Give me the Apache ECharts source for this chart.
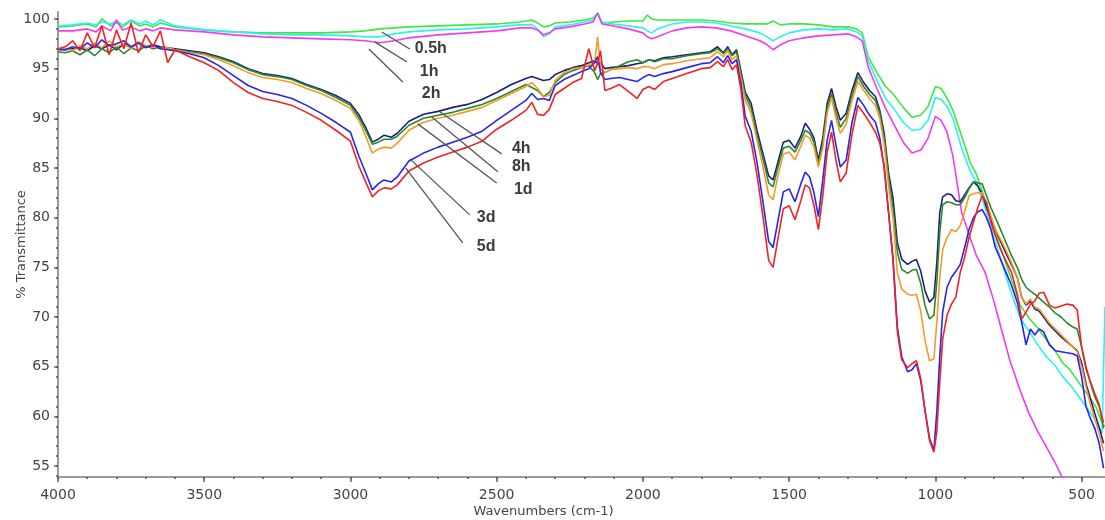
<!DOCTYPE html>
<html>
<head>
<meta charset="utf-8">
<script src="https://cdn.jsdelivr.net/npm/echarts@6/dist/echarts.min.js"></script>
<style>
  html, body { margin: 0; padding: 0; background: #fff; }
  #chart { width: 1105px; height: 520px; }
</style>
</head>
<body>
<div id="chart"></div>
<script>
// wavenumbers (cm-1) for the three short-time spectra
const wnTop = [
  4000, 3950, 3900, 3870, 3850, 3820, 3800, 3780, 3750, 3720,
  3700, 3675, 3650, 3600, 3500, 3400, 3300, 3200, 3100, 3000,
  2950, 2900, 2850, 2800, 2700, 2600, 2500, 2420, 2380, 2360,
  2340, 2320, 2300, 2250, 2200, 2170, 2155, 2140, 2100, 2050,
  2000, 1985, 1970, 1950, 1900, 1850, 1800, 1750, 1700, 1650,
  1600, 1575, 1555, 1530, 1500, 1450, 1400, 1350, 1300, 1270,
  1250, 1230, 1200, 1170, 1140, 1110, 1080, 1050, 1025, 1000,
  980, 960, 940, 910, 880, 860, 830, 800, 780, 745,
  710, 680, 650, 620, 590, 565, 540, 507, 480, 450,
  430, 420
];
const t05h = [
  99.2, 99.3, 99.5, 99.2, 100.0, 99.3, 99.6, 99.2, 99.8, 99.3,
  99.5, 99.2, 99.6, 99.2, 98.9, 98.7, 98.6, 98.6, 98.6, 98.7,
  98.8, 99.0, 99.1, 99.2, 99.3, 99.4, 99.5, 99.7, 99.9, 99.6,
  99.2, 99.3, 99.6, 99.7, 99.9, 100.1, 100.6, 99.6, 99.7, 99.8,
  99.8, 100.4, 100.0, 99.9, 99.9, 99.9, 99.9, 99.8, 99.6, 99.5,
  99.5, 99.5, 99.8, 99.4, 99.5, 99.5, 99.4, 99.2, 99.2, 99.0,
  98.6, 96.2, 94.6, 93.2, 92.3, 91.1, 90.1, 90.3, 91.2, 93.2,
  93.0, 92.0, 90.8, 88.2, 85.5, 84.4, 81.8, 79.0, 77.2, 74.2,
  71.2, 69.9, 68.9, 67.7, 66.6, 65.4, 64.7, 63.3, 62.2, 60.9,
  59.3, 59.0
];
const t1h = [
  99.3, 99.4, 99.6, 99.4, 99.7, 99.5, 99.8, 99.4, 99.9, 99.5,
  99.8, 99.4, 99.9, 99.3, 98.9, 98.7, 98.5, 98.4, 98.4, 98.3,
  98.2, 98.2, 98.5, 98.7, 98.9, 99.0, 99.2, 99.4, 99.4, 99.0,
  98.2, 98.5, 99.2, 99.4, 99.7, 99.9, 100.6, 99.7, 99.5, 99.3,
  99.1, 98.8, 98.6, 99.0, 99.5, 99.7, 99.7, 99.6, 99.3, 99.0,
  98.6, 98.2, 97.8, 98.2, 98.6, 98.9, 99.0, 98.9, 99.0, 98.7,
  98.3, 95.8, 93.8, 92.0, 90.9, 89.6, 88.8, 88.9, 89.8, 92.1,
  91.9, 91.2, 90.0, 87.0, 84.6, 83.6, 81.0, 78.0, 76.2, 72.8,
  69.9, 68.6, 67.2, 66.0, 65.1, 64.0, 63.2, 61.9, 60.8, 59.5,
  58.3, 71.0
];
const t2h = [
  98.8, 98.8, 99.0, 98.7, 99.3, 98.8, 99.9, 98.9, 99.2, 98.8,
  99.0, 98.8, 99.1, 98.9, 98.7, 98.4, 98.2, 98.1, 98.0, 97.9,
  97.8, 97.6, 97.8, 98.1, 98.4, 98.6, 98.8, 99.1, 99.1, 98.9,
  98.4, 98.6, 99.0, 99.2, 99.5, 99.7, 100.6, 99.5, 99.3, 99.0,
  98.6, 98.2, 98.0, 98.2, 98.8, 99.1, 99.2, 99.1, 98.8, 98.3,
  97.8, 97.4, 96.9, 97.4, 97.8, 98.1, 98.3, 98.4, 98.5, 98.2,
  97.8, 95.2, 93.0, 91.0, 89.3, 87.6, 86.5, 86.8, 88.0, 90.2,
  89.8, 88.6, 86.2, 80.5, 77.9, 76.2, 74.5, 71.6, 69.4, 65.6,
  62.6, 60.3, 58.5, 56.9, 55.3, 53.8, 52.5, 51.0, 49.8, 48.5,
  47.7, 47.3
];

// wavenumbers for the five longer-time spectra
const wnLow = [
  4000, 3975, 3950, 3925, 3900, 3875, 3850, 3825, 3800, 3775, 3750, 3725, 3700, 3675, 3650, 3625, 3600,
  3550, 3500, 3450, 3400, 3350, 3300, 3250, 3200, 3150, 3100, 3050, 3000,
  2970, 2945, 2925, 2905, 2885, 2860, 2840, 2800, 2750, 2700, 2650, 2600, 2550, 2500, 2450, 2400,
  2380, 2360, 2340, 2320, 2300, 2270, 2240, 2210, 2185, 2165, 2155, 2145, 2130, 2110, 2080, 2050, 2020, 2000, 1980, 1960, 1930, 1900, 1850, 1800,
  1770, 1745, 1725, 1710, 1695, 1680, 1665, 1650, 1630, 1610, 1590, 1570, 1555, 1540, 1520, 1500, 1480, 1460, 1445, 1430,
  1415, 1400, 1385, 1370, 1355, 1340, 1325, 1305, 1285, 1265, 1245, 1225, 1205, 1190, 1175, 1160, 1145, 1130,
  1115, 1095, 1080, 1065, 1050, 1035, 1020, 1005, 995, 985, 975, 960, 945, 930, 915, 900, 885, 870, 855, 840, 825, 810,
  795, 780, 760, 740, 720, 705, 690, 675, 660, 645, 630, 610, 590, 570, 550, 530, 515, 500, 485, 470, 455, 440, 425
];
const t4h = [
  96.9, 96.9, 97.0, 97.1, 96.8, 97.3, 97.0, 97.4, 96.9, 97.5, 97.1, 97.6, 97.2, 97.4, 97.2, 97.1, 97.0,
  96.8, 96.6, 96.2, 95.7, 95.0, 94.5, 94.3, 94.0, 93.4, 92.9, 92.3, 91.5,
  90.3, 88.9, 87.6, 87.9, 88.3, 88.1, 88.5, 89.7, 90.4, 90.7, 91.1, 91.4, 91.9, 92.6, 93.4, 94.0,
  94.2, 94.0, 93.8, 93.9, 94.4, 94.8, 95.1, 95.3, 95.6, 95.8, 95.5, 95.6, 95.0, 95.1, 95.2, 95.3, 95.5, 95.6, 95.9, 95.8, 96.1, 96.2, 96.4, 96.6,
  96.7, 97.2, 96.6, 97.2, 96.4, 96.9, 94.8, 92.6, 91.5, 88.8, 86.5, 84.2, 83.8, 85.4, 87.6, 87.8, 87.0, 88.2, 89.5, 88.9,
  88.0, 85.8, 88.0, 91.5, 93.0, 91.2, 89.8, 90.5, 92.8, 94.6, 93.6, 92.8, 92.2, 90.8, 88.5, 84.5, 82.0, 77.5,
  75.8, 75.3, 75.6, 75.8, 74.6, 72.6, 71.5, 72.0, 75.5, 80.5, 82.1, 82.4, 82.3, 81.7, 81.6, 82.3, 83.0, 83.6, 83.2, 82.4, 81.0, 79.8,
  78.8, 77.8, 76.5, 75.3, 74.0, 72.0, 71.2, 71.6, 70.8, 70.6, 70.0, 69.2, 68.6, 68.0, 67.5, 67.0, 66.6, 65.4, 63.3, 61.8, 60.3, 58.9, 57.3
];
const t8h = [
  96.7, 96.6, 96.8, 96.4, 96.9, 96.3, 97.0, 96.6, 97.2, 96.5, 97.1, 96.8, 97.3, 97.0, 97.1, 97.0, 96.9,
  96.7, 96.5, 96.1, 95.6, 94.9, 94.4, 94.2, 93.9, 93.3, 92.8, 92.1, 91.3,
  90.0, 88.6, 87.4, 87.6, 87.9, 87.9, 88.2, 89.3, 90.0, 90.3, 90.6, 91.0, 91.4, 92.0, 92.7, 93.4,
  93.1, 92.8, 92.2, 92.6, 93.6, 94.4, 94.8, 95.1, 95.3, 94.6, 93.9, 94.5, 94.6, 94.9, 95.3, 95.7, 95.9, 95.6, 95.9, 95.7, 96.0, 96.0, 96.3, 96.5,
  96.6, 97.0, 96.5, 97.0, 96.3, 96.7, 94.5, 92.3, 91.0, 88.3, 86.0, 83.5, 83.1, 84.9, 87.0, 87.2, 86.6, 87.8, 88.8, 88.5,
  87.6, 85.5, 87.4, 91.0, 92.5, 90.6, 89.1, 90.0, 92.3, 94.2, 93.2, 92.4, 91.8, 90.5, 88.0, 84.0, 81.0, 76.5,
  74.8, 74.4, 74.7, 74.8, 73.4, 71.1, 69.8, 70.2, 73.5, 78.5, 81.3, 81.6, 81.5, 81.3, 81.3, 82.0, 82.9, 83.6, 83.5, 83.4, 82.2, 81.0,
  80.0, 79.0, 77.6, 76.2, 75.0, 73.8, 73.0, 72.6, 72.3, 71.9, 71.5, 71.0, 70.4, 70.0, 69.4, 69.0, 68.8, 67.0, 64.8, 63.5, 62.3, 61.2, 58.8
];
const t1d = [
  96.9, 97.0, 96.8, 97.3, 97.0, 97.6, 97.1, 97.8, 97.2, 97.5, 97.0, 97.7, 97.3, 97.2, 97.0, 97.1, 96.9,
  96.6, 96.4, 95.9, 95.3, 94.6, 94.1, 93.9, 93.6, 93.0, 92.5, 91.8, 91.0,
  89.7, 88.0, 86.5, 86.9, 87.1, 87.0, 87.5, 88.8, 89.6, 90.0, 90.3, 90.7, 91.1, 91.8, 92.5, 93.2,
  93.6, 93.0, 92.2, 92.3, 93.8, 94.6, 95.0, 95.1, 95.4, 95.6, 98.2, 95.0, 94.6, 94.9, 95.0, 95.1, 95.0, 95.2, 95.2, 95.0, 95.4, 95.5, 95.8, 96.0,
  96.1, 96.7, 96.2, 96.8, 95.9, 96.3, 94.1, 91.8, 90.5, 87.8, 85.2, 82.3, 81.8, 84.0, 86.4, 86.6, 85.8, 87.2, 88.3, 88.0,
  87.1, 85.1, 87.0, 90.5, 92.1, 90.0, 88.5, 89.4, 91.8, 93.7, 92.8, 92.0, 91.3, 90.0, 87.4, 83.2, 80.0, 74.5,
  72.8, 72.3, 72.2, 72.3, 70.6, 67.6, 65.6, 65.8, 69.5, 74.0, 76.8, 78.0, 78.8, 78.6, 79.2, 80.6, 82.2, 82.4, 82.5, 82.5, 81.5, 80.2,
  78.8, 78.0, 76.8, 75.5, 74.0, 72.0, 71.3, 71.8, 71.0, 70.8, 70.2, 69.4, 68.8, 68.2, 67.6, 67.0, 66.5, 65.0, 63.0, 61.2, 59.8, 58.3, 56.5
];
const t3d = [
  97.0, 96.9, 97.2, 97.0, 97.6, 97.1, 97.9, 97.3, 97.5, 97.8, 97.2, 97.6, 97.1, 97.4, 97.0, 96.9, 96.8,
  96.5, 96.1, 95.3, 94.3, 93.3, 92.7, 92.4, 92.0, 91.3, 90.5, 89.6, 88.6,
  86.1, 84.3, 82.8, 83.4, 83.8, 83.6, 84.1, 85.7, 86.5, 87.1, 87.6, 88.1, 88.7, 89.8, 90.8, 91.8,
  92.5, 91.9, 92.0, 91.8, 93.3, 93.9, 94.3, 94.7, 95.0, 95.6, 96.2, 94.6, 93.9, 94.0, 94.1, 93.9, 93.7, 94.1, 94.4, 94.2, 94.5, 94.7, 95.1, 95.5,
  95.6, 96.2, 95.6, 96.3, 95.5, 95.9, 93.5, 90.2, 88.7, 85.6, 81.7, 77.6, 77.0, 79.4, 82.6, 82.9, 81.6, 83.4, 84.6, 84.1,
  82.5, 80.1, 83.8, 87.8, 89.8, 87.3, 85.1, 85.8, 89.6, 92.1, 91.3, 90.3, 89.6, 88.0, 85.0, 80.5, 76.0, 69.0,
  66.0, 64.5, 64.7, 65.3, 63.6, 60.5, 57.8, 56.6, 60.5, 66.0, 70.5, 73.0, 74.0, 74.6, 75.3, 77.0, 78.8, 80.0, 80.6, 80.8, 80.0, 78.8,
  77.0, 76.0, 74.6, 73.2, 71.5, 69.5, 67.2, 68.8, 68.2, 68.8, 68.5, 67.2, 66.6, 66.5, 66.4, 66.3, 66.1, 64.0, 61.0, 59.8, 58.8, 57.3, 54.8
];
const t5d = [
  97.0, 97.2, 97.8, 96.8, 98.6, 97.1, 99.3, 96.4, 98.9, 97.0, 99.6, 96.6, 98.4, 97.2, 98.8, 95.6, 96.9,
  96.2, 95.6, 94.8, 93.6, 92.6, 92.0, 91.7, 91.3, 90.6, 89.8, 88.8, 87.7,
  85.1, 83.4, 82.1, 82.7, 83.0, 82.9, 83.3, 84.7, 85.5, 86.1, 86.6, 87.1, 87.7, 88.9, 89.8, 90.8,
  91.6, 90.4, 90.3, 90.9, 92.4, 93.0, 93.6, 94.0, 97.0, 94.8, 95.5, 96.8, 92.8, 93.0, 93.4, 92.7, 92.0, 92.9, 93.2, 92.9, 93.7, 94.0, 94.5, 95.0,
  95.1, 95.7, 95.2, 95.9, 94.9, 95.4, 92.9, 89.2, 87.6, 84.3, 80.2, 75.7, 75.0, 77.6, 80.9, 81.2, 79.8, 81.7, 83.3, 83.0,
  81.2, 78.8, 82.2, 86.6, 88.6, 85.8, 83.6, 84.5, 88.4, 91.3, 90.5, 89.6, 88.6, 87.5, 85.2, 80.5, 75.7, 68.5,
  65.7, 64.9, 65.3, 65.6, 63.8, 60.5, 57.6, 56.4, 58.5, 63.5, 67.8, 70.2, 71.3, 72.0, 74.5, 76.0, 78.0, 79.5, 81.0, 82.2, 81.5, 79.5,
  78.2, 77.0, 75.7, 74.5, 72.3, 69.8, 70.5, 71.3, 71.6, 72.4, 72.5, 71.2, 70.9, 71.1, 71.3, 71.2, 70.7, 67.0, 65.0, 63.4, 62.0, 61.0, 59.4
];

const xTicks = [4000, 3500, 3000, 2500, 2000, 1500, 1000, 500];
const yTicks = [55, 60, 65, 70, 75, 80, 85, 90, 95, 100];

// callouts: name, curve point, end of leader, label point ([wavenumber, %T])
const callouts = [
  { name: '0.5h', from: [2893, 98.69], to: [2797, 96.98], at: [2780, 96.98] },
  { name: '1h', from: [2917, 97.69], to: [2807, 95.67], at: [2763, 94.67] },
  { name: '2h', from: [2937, 96.98], to: [2821, 93.66], at: [2756, 92.45] },
  { name: '4h', from: [2694, 90.64], to: [2483, 86.42], at: [2448, 86.92] },
  { name: '8h', from: [2722, 90.14], to: [2496, 84.61], at: [2448, 85.11] },
  { name: '1d', from: [2770, 89.44], to: [2500, 83.50], at: [2441, 82.80] },
  { name: '3d', from: [2797, 85.92], to: [2592, 80.28], at: [2568, 79.98] },
  { name: '5d', from: [2811, 84.99], to: [2616, 77.46], at: [2568, 77.06] }
];

const spectra = [
  { name: '0.5h', x: wnTop, y: t05h, color: '#3ee83e' },
  { name: '1h', x: wnTop, y: t1h, color: '#2ff0f0' },
  { name: '2h', x: wnTop, y: t2h, color: '#f03cf0' },
  { name: '4h', x: wnLow, y: t4h, color: '#1e1e7c' },
  { name: '8h', x: wnLow, y: t8h, color: '#2b8a2b' },
  { name: '1d', x: wnLow, y: t1d, color: '#f59a2a' },
  { name: '3d', x: wnLow, y: t3d, color: '#2525f2' },
  { name: '5d', x: wnLow, y: t5d, color: '#f02222' }
];

function range (from, to, step) {
  const out = [];
  for (let v = from; v <= to; v += step) out.push(v);
  return out;
}

const axisGray = '#9a9a9a';
const labelStyle = { color: '#444', fontSize: 14, fontFamily: 'DejaVu Sans', formatter: function (v) { return String(v); } };

const myChart = echarts.init(document.getElementById('chart'));

myChart.setOption({
  animation: false,
  backgroundColor: '#fff',
  grid: { left: 58, right: 0, top: 12, bottom: 43, outerBoundsMode: 'none', containLabel: false },
  xAxis: [
    {
      type: 'value', inverse: true, min: 420, max: 4000,
      position: 'bottom',
      name: 'Wavenumbers (cm-1)', nameLocation: 'middle', nameGap: 28, nameMoveOverlap: false,
      nameTextStyle: { color: '#444', fontSize: 13, fontFamily: 'DejaVu Sans', padding: [0, 76, 0, 0] },
      axisLine: { show: true, lineStyle: { color: axisGray, width: 2 } },
      axisTick: { show: true, customValues: xTicks, length: 5, lineStyle: { color: '#666', width: 1.5 } },
      axisLabel: { customValues: xTicks, margin: 11, ...labelStyle },
      splitLine: { show: false }
    },
    {
      // minor ticks every 100 cm-1
      type: 'value', inverse: true, min: 420, max: 4000,
      position: 'bottom',
      axisLine: { show: false },
      axisTick: { show: true, customValues: range(500, 4000, 100), length: 2, lineStyle: { color: '#555', width: 1.5 } },
      axisLabel: { show: false, customValues: range(500, 4000, 100) },
      splitLine: { show: false }
    }
  ],
  yAxis: [
    {
      type: 'value', min: 53.9, max: 100.7,
      position: 'left',
      name: '% Transmittance', nameLocation: 'middle', nameGap: 30, nameMoveOverlap: false,
      nameTextStyle: { color: '#444', fontSize: 13, fontFamily: 'DejaVu Sans' },
      axisLine: { show: true, lineStyle: { color: axisGray, width: 2 } },
      axisTick: { show: true, customValues: yTicks, length: 4, lineStyle: { color: '#666', width: 1.5 } },
      axisLabel: { customValues: yTicks, margin: 8, ...labelStyle },
      splitLine: { show: false }
    },
    {
      // minor ticks every 1 %T
      type: 'value', min: 53.9, max: 100.7,
      position: 'left',
      axisLine: { show: false },
      axisTick: { show: true, customValues: range(54, 100, 1), length: 2, lineStyle: { color: '#555', width: 1.5 } },
      axisLabel: { show: false, customValues: range(54, 100, 1) },
      splitLine: { show: false }
    }
  ],
  series: spectra.map(function (s) {
    const c = callouts.find(function (k) { return k.name === s.name; });
    return {
      name: s.name,
      type: 'line',
      xAxisIndex: 0,
      yAxisIndex: 0,
      showSymbol: false,
      symbol: 'none',
      lineStyle: { color: s.color, width: 1.6 },
      itemStyle: { color: s.color },
      data: s.x.map(function (w, i) { return [w, s.y[i]]; }),
      markLine: {
        silent: true,
        symbol: ['none', 'none'],
        lineStyle: { color: '#555', width: 1.3, type: 'solid' },
        label: { show: false },
        data: [[{ coord: c.from }, { coord: c.to }]]
      },
      markPoint: {
        silent: true,
        data: [{
          coord: c.at,
          symbol: 'circle',
          symbolSize: 0,
          label: {
            show: true, position: 'right', distance: 0, formatter: c.name,
            color: '#3c3c3c', fontSize: 16, fontWeight: 'bold', fontFamily: 'Liberation Sans'
          }
        }]
      }
    };
  })
});

window.onresize = myChart.resize;
</script>
</body>
</html>
